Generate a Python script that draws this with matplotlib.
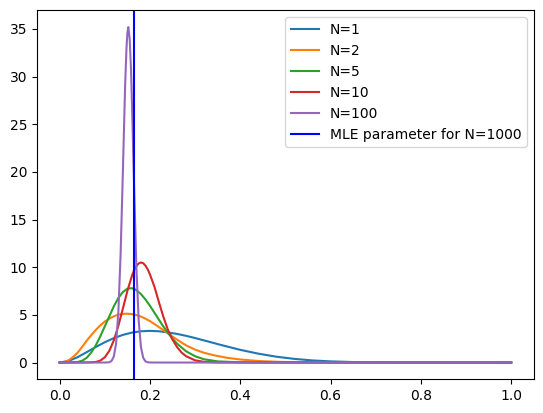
import numpy as np
import matplotlib
matplotlib.use("Agg")
import matplotlib.pyplot as plt

# curvas (densidade do parametro para varios N)
x_n1 = [0, 0.02, 0.04, 0.06, 0.08, 0.10, 0.12, 0.14, 0.16, 0.18, 0.20, 0.22, 0.24, 0.26,
        0.28, 0.30, 0.33, 0.36, 0.40, 0.44, 0.48, 0.52, 0.56, 0.60, 0.65, 0.70, 0.75, 0.80, 1.00]
y_n1 = [0, 0.17, 0.57, 1.09, 1.63, 2.13, 2.56, 2.90, 3.14, 3.28, 3.32, 3.28, 3.16, 3.00,
        2.80, 2.57, 2.19, 1.81, 1.33, 0.93, 0.61, 0.38, 0.22, 0.12, 0.05, 0.02, 0.005, 0.001, 0]

x_n2 = [0, 0.01, 0.02, 0.03, 0.04, 0.05, 0.06, 0.07, 0.08, 0.09, 0.10, 0.11, 0.12, 0.13,
        0.14, 0.15, 0.16, 0.17, 0.18, 0.19, 0.20, 0.22, 0.24, 0.26, 0.28, 0.30, 0.32, 0.34,
        0.37, 0.40, 0.44, 0.48, 0.52, 0.56, 0.60, 1.0]
y_n2 = [0, 0.05, 0.24, 0.60, 1.05, 1.65, 2.30, 2.88, 3.42, 3.90, 4.30, 4.60, 4.85, 5.02,
        5.10, 5.12, 5.08, 4.98, 4.82, 4.60, 4.35, 3.72, 3.05, 2.40, 1.80, 1.35, 1.02, 0.78,
        0.50, 0.32, 0.16, 0.08, 0.035, 0.015, 0.005, 0]

x_n5 = [0, 0.02, 0.04, 0.05, 0.06, 0.07, 0.08, 0.09, 0.10, 0.11, 0.12, 0.13, 0.14, 0.15,
        0.16, 0.17, 0.18, 0.19, 0.20, 0.21, 0.22, 0.23, 0.24, 0.25, 0.26, 0.28, 0.30, 0.32,
        0.35, 0.40, 0.45, 1.0]
y_n5 = [0, 0.01, 0.06, 0.19, 0.50, 1.05, 1.80, 2.75, 3.80, 4.85, 5.90, 6.78, 7.40, 7.75,
        7.80, 7.60, 7.18, 6.62, 5.95, 5.22, 4.48, 3.76, 3.10, 2.50, 1.98, 1.18, 0.66, 0.34,
        0.12, 0.02, 0.003, 0]

x_n10 = [0, 0.06, 0.08, 0.09, 0.10, 0.11, 0.12, 0.13, 0.14, 0.15, 0.16, 0.165, 0.17, 0.175,
         0.18, 0.185, 0.19, 0.195, 0.20, 0.21, 0.22, 0.23, 0.24, 0.25, 0.26, 0.27, 0.28,
         0.30, 0.32, 0.35, 1.0]
y_n10 = [0, 0.01, 0.06, 0.20, 0.55, 1.23, 2.33, 3.85, 5.66, 7.51, 9.09, 9.70, 10.13, 10.40,
         10.50, 10.42, 10.17, 9.78, 9.24, 7.94, 6.30, 4.75, 3.40, 2.40, 1.62, 1.05, 0.66,
         0.23, 0.07, 0.01, 0]

x_n100 = [0, 0.10, 0.11, 0.115, 0.12, 0.125, 0.13, 0.135, 0.14, 0.145, 0.148, 0.15, 0.152,
          0.155, 0.158, 0.16, 0.165, 0.17, 0.175, 0.18, 0.185, 0.19, 0.195, 0.20, 0.21, 1.0]
y_n100 = [0, 0.0, 0.03, 0.17, 0.64, 2.0, 5.3, 11.4, 20.0, 29.1, 33.0, 34.6, 35.2,
          34.0, 30.8, 27.4, 18.2, 9.9, 4.4, 1.63, 0.5, 0.12, 0.03, 0.005, 0, 0]

mle_1000 = 0.164

fig = plt.figure(figsize=(5.43, 4.13), dpi=100)
ax = fig.add_axes([0.0683, 0.0816, 0.9147, 0.8935])

ax.plot(x_n1, y_n1, label='N=1')
ax.plot(x_n2, y_n2, label='N=2')
ax.plot(x_n5, y_n5, label='N=5')
ax.plot(x_n10, y_n10, label='N=10')
ax.plot(x_n100, y_n100, label='N=100')
ax.axvline(mle_1000, color='blue', label='MLE parameter for N=1000')
ax.legend()

fig.savefig('out.png', dpi=100)
